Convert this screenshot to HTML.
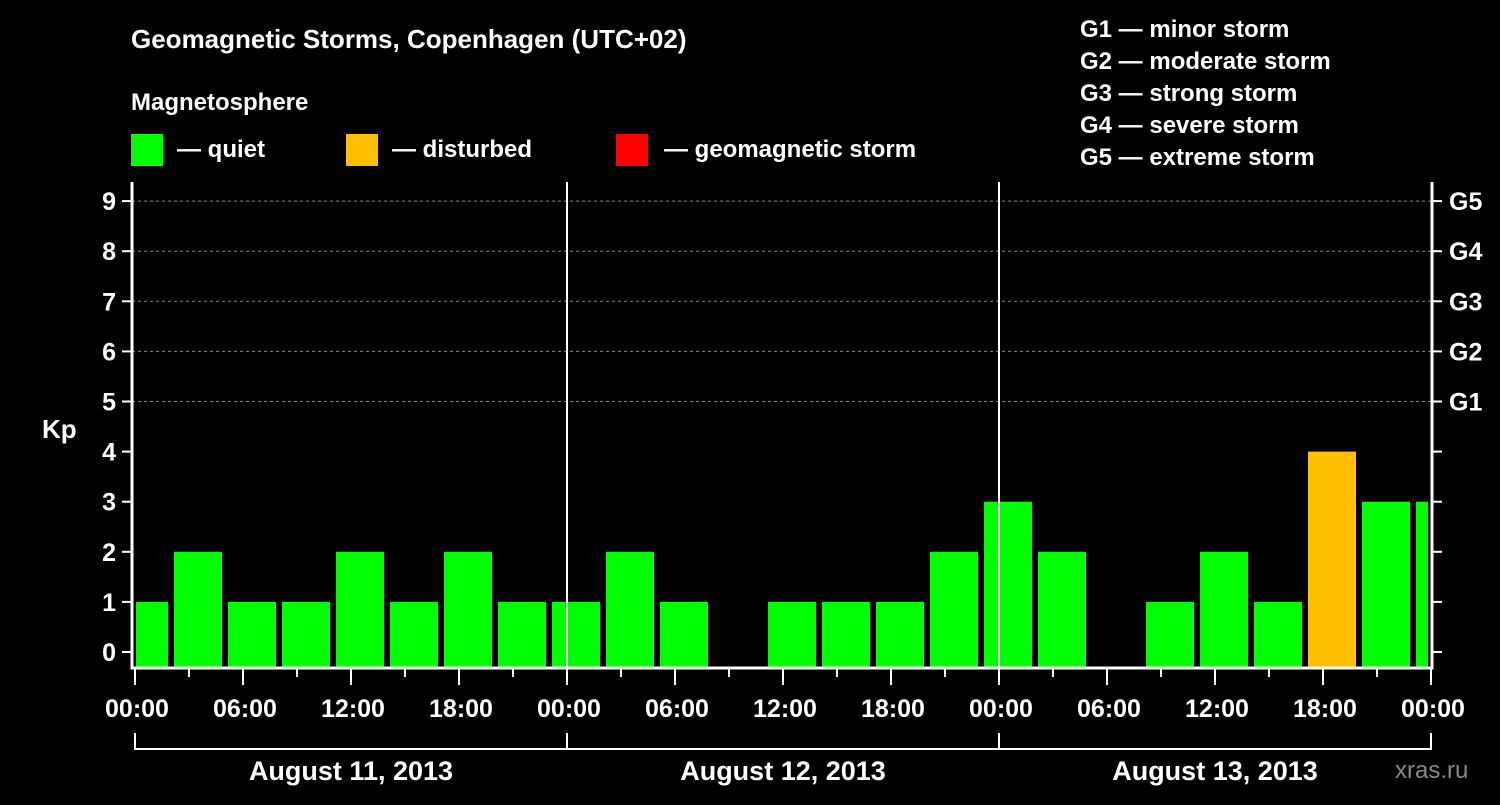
<!DOCTYPE html>
<html><head><meta charset="utf-8"><style>
html,body{margin:0;padding:0;background:#000;}
svg text{font-family:"Liberation Sans",Arial,sans-serif;font-weight:bold;fill:#fff;}
</style></head><body>
<svg id="chart" width="1500" height="800" xmlns="http://www.w3.org/2000/svg">
<rect width="1500" height="800" fill="#000"/>
<text x="131" y="48" font-size="26">Geomagnetic Storms, Copenhagen (UTC+02)</text>
<text x="131" y="110" font-size="24">Magnetosphere</text>
<g>
<rect x="131" y="134" width="32" height="32" fill="#00ff00"/>
<text x="177" y="157" font-size="24">— quiet</text>
<rect x="346" y="134" width="32" height="32" fill="#ffbf00"/>
<text x="392" y="157" font-size="24">— disturbed</text>
<rect x="616" y="134" width="32" height="32" fill="#ff0000"/>
<text x="664" y="157" font-size="24">— geomagnetic storm</text>
</g>
<g font-size="24">
<text x="1080" y="37">G1 — minor storm</text>
<text x="1080" y="69">G2 — moderate storm</text>
<text x="1080" y="101">G3 — strong storm</text>
<text x="1080" y="133">G4 — severe storm</text>
<text x="1080" y="165">G5 — extreme storm</text>
</g>
<text x="42" y="438" font-size="26">Kp</text>
<text x="1395" y="778" font-size="24" style="fill:#888;font-weight:normal">xras.ru</text>
<g id="plot"></g>
</svg>
<script>
const kpValues=[1,2,1,1,2,1,2,1,1,2,1,0,1,1,1,2,3,2,0,1,2,1,4,3,3];
const yTicks=[0,1,2,3,4,5,6,7,8,9];
const gLabels=["G1","G2","G3","G4","G5"];
const xTickLabels=["00:00","06:00","12:00","18:00","00:00","06:00","12:00","18:00","00:00","06:00","12:00","18:00","00:00"];
const dayLabels=["August 11, 2013","August 12, 2013","August 13, 2013"];

const NS="http://www.w3.org/2000/svg";
const g=document.getElementById('plot');
const L=132,R=1432,T=182,B=668;
const x=h=>135+18*h;
const y=v=>652-50.1*v;
function mk(tag,attrs,text){const e=document.createElementNS(NS,tag);for(const k in attrs)e.setAttribute(k,attrs[k]);if(text!==undefined)e.textContent=text;g.appendChild(e);return e;}

// grid for 5..9
yTicks.forEach(v=>{if(v>=5){const l=mk('line',{x1:L,x2:R,y1:y(v),y2:y(v),stroke:'#888','stroke-dasharray':'3,3','stroke-width':1});
}});
// bars
kpValues.forEach((v,k)=>{if(v<=0)return;
 let x0=x(3*k)-15,x1=x0+48;x0=Math.max(x0,136);x1=Math.min(x1,R-4);
 const col=v>=5?'#ff0000':(v>=4?'#ffbf00':'#00ff00');
 const r=mk('rect',{x:x0,y:y(v)-(v>0?0:0),width:x1-x0,height:B-y(v),fill:col});
 });
// day separators
[1,2].forEach(d=>{const l=mk('line',{x1:x(24*d),x2:x(24*d),y1:T,y2:B,stroke:'#fff','stroke-width':2});
});
// axes frame
const f=mk('path',{d:`M${L} ${T}V${B}H${R}V${T}`,fill:'none',stroke:'#fff','stroke-width':3});

// y ticks
yTicks.forEach(v=>{mk('line',{x1:L-10,x2:L,y1:y(v),y2:y(v),stroke:'#fff','stroke-width':2});
 mk('line',{x1:R,x2:R+10,y1:y(v),y2:y(v),stroke:'#fff','stroke-width':2});
 const t=mk('text',{x:L-16,y:y(v)+9,'font-size':25,'text-anchor':'end'},String(v));
 });
gLabels.forEach((s,i)=>{const t=mk('text',{x:R+17,y:y(5+i)+9,'font-size':25},s);
 });
// x ticks
for(let h=0;h<=72;h+=3){const major=h%6===0;
 mk('line',{x1:x(h),x2:x(h),y1:B,y2:B+(major?17:9),stroke:'#fff','stroke-width':2});}
xTickLabels.forEach((s,i)=>{const t=mk('text',{x:x(6*i)+2,y:717,'font-size':25,'text-anchor':'middle'},s);
 });
// day bracket
mk('path',{d:`M${x(0)} 733V749H${x(72)}V733`,fill:'none',stroke:'#fff','stroke-width':2});
[1,2].forEach(d=>mk('line',{x1:x(24*d),x2:x(24*d),y1:733,y2:749,stroke:'#fff','stroke-width':2}));
dayLabels.forEach((s,i)=>{const t=mk('text',{x:x(24*i+12),y:780,'font-size':27,'text-anchor':'middle'},s);
 });
</script>
</body></html>
